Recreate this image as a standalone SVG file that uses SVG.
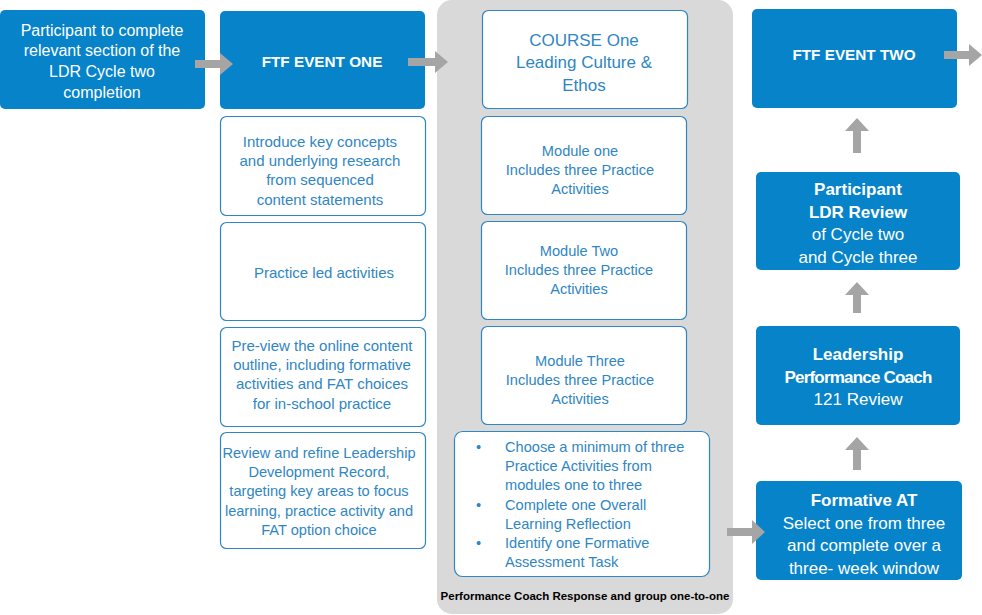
<svg xmlns="http://www.w3.org/2000/svg" width="982" height="615" viewBox="0 0 982 615">
<style>
text{font-family:"Liberation Sans",Arial,sans-serif;text-anchor:middle}
.blue{fill:#0683C9}
.wbox{fill:#ffffff;stroke:#2F86C3;stroke-width:1.2}
.wt{fill:#FFFFFF;font-size:16px}
.wtb{fill:#FFFFFF;font-size:15.3px;font-weight:bold}
.rt{fill:#FFFFFF;font-size:17px}
.bt{fill:#2F86C3;font-size:15px}
.dt{fill:#2F86C3;font-size:14.6px}
.mt{fill:#2F86C3;font-size:14.6px}
.ct{fill:#2F86C3;font-size:17px}
.lt{fill:#2F86C3;font-size:14.6px;text-anchor:start}
.arr{fill:#A5A5A5}
.foot{fill:#000;font-size:11.5px;font-weight:bold}
</style>
<rect id="panel" x="437" y="0" width="296" height="614" rx="15" fill="#D9D9D9"/>
<g id="n1"><rect class="blue" x="0" y="10" width="205" height="99" rx="5"/>
<text class="wt" x="102" y="36">Participant to complete</text>
<text class="wt" x="102" y="56">relevant section of the</text>
<text class="wt" x="102" y="77">LDR Cycle two</text>
<text class="wt" x="102" y="98">completion</text></g>
<g id="n2"><rect class="blue" x="220" y="11" width="205" height="98" rx="5"/>
<text class="wtb" x="322" y="67">FTF EVENT ONE</text></g>
<g id="n3"><rect class="wbox" x="220.5" y="116.5" width="205" height="99" rx="6"/>
<text class="bt" x="320" y="147">Introduce  key concepts</text>
<text class="bt" x="320" y="166">and underlying research</text>
<text class="bt" x="320" y="185">from sequenced</text>
<text class="bt" x="320" y="205">content statements</text></g>
<g id="n4"><rect class="wbox" x="220.5" y="222.5" width="205" height="98" rx="6"/>
<text class="bt" x="324" y="278">Practice led activities</text></g>
<g id="n5"><rect class="wbox" x="220.5" y="327.5" width="205" height="99" rx="6"/>
<text class="bt" x="322" y="351">Pre-view the online content</text>
<text class="bt" x="322" y="370">outline, including formative</text>
<text class="bt" x="322" y="389">activities and FAT choices</text>
<text class="bt" x="322" y="409">for in-school practice</text></g>
<g id="n6"><rect class="wbox" x="220.5" y="432.5" width="205" height="116" rx="6"/>
<text class="dt" x="319" y="458">Review and refine Leadership</text>
<text class="dt" x="319" y="477">Development  Record,</text>
<text class="dt" x="319" y="496">targeting key areas to focus</text>
<text class="dt" x="319" y="516">learning, practice activity and</text>
<text class="dt" x="319" y="535">FAT option choice</text></g>
<g id="n7"><rect class="wbox" x="482.5" y="10.5" width="205" height="98" rx="6"/>
<text class="ct" x="584" y="46">COURSE One</text>
<text class="ct" x="584" y="68">Leading Culture &amp;</text>
<text class="ct" x="584" y="91">Ethos</text></g>
<g id="n8"><rect class="wbox" x="481.5" y="116.5" width="205" height="98" rx="6"/>
<text class="mt" x="580" y="156">Module one</text>
<text class="mt" x="580" y="175">Includes three  Practice</text>
<text class="mt" x="580" y="194">Activities</text></g>
<g id="n9"><rect class="wbox" x="481.5" y="221.5" width="205" height="98" rx="6"/>
<text class="mt" x="579" y="256">Module Two</text>
<text class="mt" x="579" y="275">Includes three  Practice</text>
<text class="mt" x="579" y="294">Activities</text></g>
<g id="n10"><rect class="wbox" x="481.5" y="326.5" width="205" height="98" rx="6"/>
<text class="mt" x="580" y="366">Module Three</text>
<text class="mt" x="580" y="385">Includes three  Practice</text>
<text class="mt" x="580" y="404">Activities</text></g>
<g id="n11"><rect class="wbox" x="454.5" y="431.5" width="255" height="145" rx="8"/>
<text class="lt" x="476" y="452">•</text><text class="lt" x="505" y="452">Choose a minimum  of three</text>
<text class="lt" x="505" y="471">Practice Activities from</text>
<text class="lt" x="505" y="490">modules  one to three</text>
<text class="lt" x="476" y="510">•</text><text class="lt" x="505" y="510">Complete one Overall</text>
<text class="lt" x="505" y="529">Learning Reflection</text>
<text class="lt" x="476" y="548">•</text><text class="lt" x="505" y="548">Identify one Formative</text>
<text class="lt" x="505" y="567">Assessment Task</text></g>
<text id="footer" class="foot" x="585" y="600">Performance Coach Response and group one-to-one</text>
<g id="n12"><rect class="blue" x="752" y="9" width="205" height="99" rx="5"/>
<text class="wtb" x="854" y="60">FTF EVENT TWO</text></g>
<g id="n13"><rect class="blue" x="756" y="172" width="204" height="98" rx="5"/>
<text class="rt" x="858" y="195" font-weight="bold">Participant</text>
<text class="rt" x="858" y="218" font-weight="bold">LDR Review</text>
<text class="rt" x="858" y="240">of Cycle two</text>
<text class="rt" x="858" y="263">and Cycle three</text></g>
<g id="n14"><rect class="blue" x="756" y="326" width="204" height="99" rx="5"/>
<text class="rt" x="858" y="360" font-weight="bold">Leadership</text>
<text class="rt" x="858" y="383" font-weight="bold" letter-spacing="-0.8">Performance Coach</text>
<text class="rt" x="858" y="405">121 Review</text></g>
<g id="n15"><rect class="blue" x="756" y="481" width="206" height="99" rx="5"/>
<text class="rt" x="864" y="506" font-weight="bold">Formative AT</text>
<text class="rt" x="864" y="529">Select one from three</text>
<text class="rt" x="864" y="551">and complete over a</text>
<text class="rt" x="864" y="574">three- week window</text></g>
<g id="connectors">
<polygon class="arr" points="195,60 220,60 220,53 233,64 220,75 220,68 195,68"/>
<polygon class="arr" points="408,58 435,58 435,51 448,62 435,73 435,66 408,66"/>
<polygon class="arr" points="944,51 969,51 969,44 982,55 969,66 969,59 944,59"/>
<polygon class="arr" points="727,528 752,528 752,520 765,532 752,544 752,536 727,536"/>
<polygon class="arr" points="853,153 853,131 845,131 857,118 869,131 861,131 861,153"/>
<polygon class="arr" points="853,313 853,295 845,295 857,282 869,295 861,295 861,313"/>
<polygon class="arr" points="853,470 853,450 845,450 857,437 869,450 861,450 861,470"/>
</g>
</svg>
